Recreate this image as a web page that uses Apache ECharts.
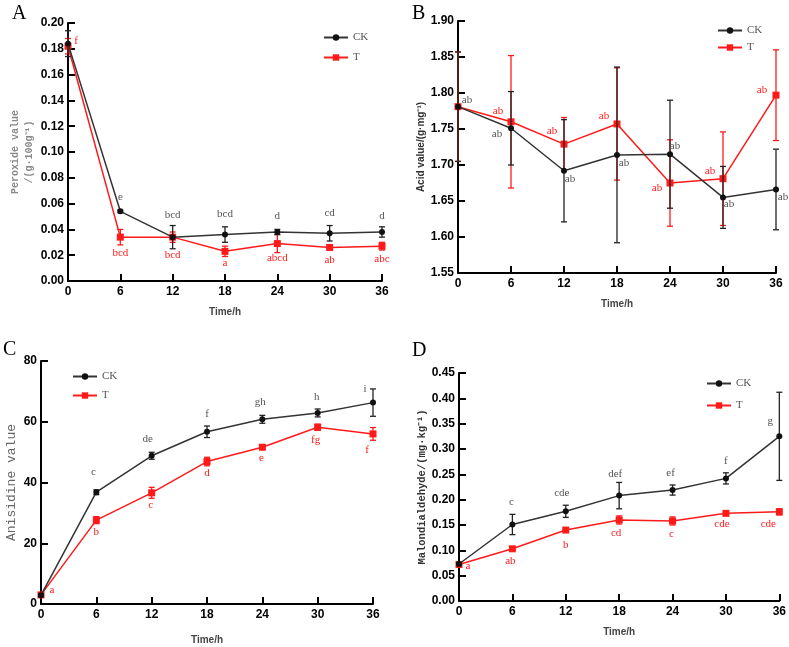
<!DOCTYPE html>
<html>
<head>
<meta charset="utf-8">
<script src="https://cdn.jsdelivr.net/npm/echarts@6/dist/echarts.min.js"></script>
<style>
  html, body { margin: 0; padding: 0; background: #fff; }
  #main { width: 789px; height: 647px; }
</style>
</head>
<body>
<div id="main"></div>
<script>
var hours = [0, 6, 12, 18, 24, 30, 36];

// A peroxide value
var peroxideCK = [0.184, 0.054, 0.034, 0.036, 0.038, 0.037, 0.038];
var peroxideCKErr = [0.010, 0.001, 0.009, 0.006, 0.002, 0.006, 0.004];
var peroxideT = [0.182, 0.034, 0.034, 0.023, 0.029, 0.026, 0.027];
var peroxideTErr = [0.006, 0.006, 0.004, 0.004, 0.007, 0.001, 0.003];
var peroxideCKSig = ['', 'e', 'bcd', 'bcd', 'd', 'cd', 'd'];
var peroxideTSig = ['f', 'bcd', 'bcd', 'a', 'abcd', 'ab', 'abc'];

// B acid value
var acidCK = [1.781, 1.751, 1.692, 1.714, 1.715, 1.655, 1.666];
var acidCKErr = [0.076, 0.051, 0.071, 0.122, 0.075, 0.043, 0.056];
var acidT = [1.781, 1.760, 1.729, 1.757, 1.675, 1.681, 1.797];
var acidTErr = [0.076, 0.092, 0.037, 0.078, 0.060, 0.065, 0.063];
var acidCKSig = ['ab', 'ab', 'ab', 'ab', 'ab', 'ab', 'ab'];
var acidTSig = ['', 'ab', 'ab', 'ab', 'ab', 'ab', 'ab'];

// C anisidine value
var anisCK = [2.9, 36.8, 48.8, 56.7, 60.8, 62.9, 66.3];
var anisCKErr = [0.5, 0.8, 1.15, 1.9, 1.3, 1.3, 4.5];
var anisT = [3.0, 27.6, 36.6, 46.9, 51.6, 58.2, 56.0];
var anisTErr = [0.5, 1.15, 1.8, 1.4, 0.65, 1.0, 2.1];
var anisCKSig = ['', 'c', 'de', 'f', 'gh', 'h', 'i'];
var anisTSig = ['a', 'b', 'c', 'd', 'e', 'fg', 'f'];

// D malondialdehyde
var mdaCK = [0.073, 0.151, 0.177, 0.208, 0.219, 0.242, 0.325];
var mdaCKErr = [0.003, 0.020, 0.012, 0.026, 0.010, 0.011, 0.087];
var mdaT = [0.072, 0.103, 0.140, 0.160, 0.158, 0.173, 0.176];
var mdaTErr = [0.003, 0.003, 0.002, 0.008, 0.008, 0.002, 0.006];
var mdaCKSig = ['', 'c', 'cde', 'def', 'ef', 'f', 'g'];
var mdaTSig = ['a', 'ab', 'b', 'cd', 'c', 'cde', 'cde'];

var CK_COLOR = '#222';
var T_COLOR = '#ff1a1a';

var panels = [
  {
    letter: 'A', letterPos: [12, 4],
    grid: { left: 68, top: 23, width: 314, height: 258 },
    y: { min: 0, max: 0.2, interval: 0.02, dec: 2 },
    yName: 'Peroxide value\n/(g·100g⁻¹)', yNameGap: 28,
    yNameStyle: { fontFamily: 'Liberation Mono', fontSize: 10, fontWeight: 'bold', color: '#888', lineHeight: 14 },
    xNameGap: 26,
    legend: { left: 318, top: 27, itemGap: 9 },
    ck: peroxideCK, ckErr: peroxideCKErr, ckSig: peroxideCKSig,
    t: peroxideT, tErr: peroxideTErr, tSig: peroxideTSig,
    ckOff: [[0, 0], [0, -14], [0, -22], [0, -20], [0, -16], [0, -20], [0, -16]],
    tOff: [[8, -5], [0, 16], [0, 18], [0, 12], [0, 15], [0, 13], [0, 13]]
  },
  {
    letter: 'B', letterPos: [412, 4],
    grid: { left: 458, top: 21, width: 318, height: 252 },
    y: { min: 1.55, max: 1.90, interval: 0.05, dec: 2 },
    yName: 'Acid value/(g·mg⁻¹)', yNameGap: 30,
    yNameStyle: { fontFamily: 'Liberation Sans', fontSize: 10, fontWeight: 'bold', color: '#333' },
    xNameGap: 26,
    legend: { left: 712, top: 20, itemGap: 6 },
    ck: acidCK, ckErr: acidCKErr, ckSig: acidCKSig,
    t: acidT, tErr: acidTErr, tSig: acidTSig,
    ckOff: [[9, -7], [-14, 6], [6, 8], [7, 8], [5, -8], [6, 7], [7, 8]],
    tOff: [[0, 0], [-13, -11], [-12, -13], [-13, -8], [-13, 5], [-13, -8], [-14, -5]]
  },
  {
    letter: 'C', letterPos: [3, 340],
    grid: { left: 41, top: 361, width: 332, height: 243 },
    y: { min: 0, max: 80, interval: 20, dec: 0 },
    yName: 'Anisidine value', yNameGap: 23,
    yNameStyle: { fontFamily: 'Liberation Mono', fontSize: 13, color: '#666' },
    xNameGap: 31,
    legend: { left: 67, top: 366, itemGap: 8 },
    ck: anisCK, ckErr: anisCKErr, ckSig: anisCKSig,
    t: anisT, tErr: anisTErr, tSig: anisTSig,
    ckOff: [[0, 0], [-3, -20], [-4, -17], [0, -18], [-2, -17], [-1, -16], [-8, -14]],
    tOff: [[11, -5], [0, 12], [-1, 12], [0, 12], [-1, 11], [-2, 13], [-6, 16]]
  },
  {
    letter: 'D', letterPos: [412, 341],
    grid: { left: 459, top: 373, width: 322, height: 228 },
    y: { min: 0, max: 0.45, interval: 0.05, dec: 2 },
    yName: 'Malondialdehyde/(mg·kg⁻¹)', yNameGap: 30,
    yNameStyle: { fontFamily: 'Liberation Mono', fontSize: 10.5, fontWeight: 'bold', color: '#333' },
    xNameGap: 26,
    legend: { left: 701, top: 373, itemGap: 11 },
    ck: mdaCK, ckErr: mdaCKErr, ckSig: mdaCKSig,
    t: mdaT, tErr: mdaTErr, tSig: mdaTSig,
    ckOff: [[0, 0], [-1, -22], [-4, -18], [-4, -22], [-2, -17], [0, -17], [-9, -15]],
    tOff: [[9, 2], [-2, 12], [0, 15], [-3, 13], [-1, 13], [-4, 11], [-11, 12]]
  }
];

function errRender(color) {
  return function (params, api) {
    var x = api.value(0);
    var lo = api.coord([x, api.value(1)]);
    var hi = api.coord([x, api.value(2)]);
    var w = 3;
    var st = { stroke: color, lineWidth: 1.3 };
    return {
      type: 'group',
      children: [
        { type: 'line', shape: { x1: lo[0], y1: lo[1], x2: hi[0], y2: hi[1] }, style: st },
        { type: 'line', shape: { x1: lo[0] - w, y1: lo[1], x2: lo[0] + w, y2: lo[1] }, style: st },
        { type: 'line', shape: { x1: hi[0] - w, y1: hi[1], x2: hi[0] + w, y2: hi[1] }, style: st }
      ]
    };
  };
}

function lineData(vals, sig, offs) {
  return hours.map(function (t, i) {
    return {
      value: [t, vals[i]],
      label: { show: sig[i] !== '', formatter: sig[i], offset: offs[i] }
    };
  });
}

var grids = [], xAxes = [], yAxes = [], legends = [], series = [], graphics = [];

panels.forEach(function (p, k) {
  grids.push(p.grid);
  xAxes.push({
    gridIndex: k, type: 'value', min: 0, max: 36, interval: 6,
    name: 'Time/h', nameLocation: 'middle', nameGap: p.xNameGap,
    nameTextStyle: { fontFamily: 'Liberation Sans', fontSize: 10, fontWeight: 'bold', color: '#444' },
    axisLine: { show: true, onZero: false, lineStyle: { color: '#000', width: 2 } },
    axisTick: { show: true, inside: true, length: 7, lineStyle: { color: '#000', width: 2 } },
    axisLabel: { fontFamily: 'Liberation Sans', fontSize: 12, fontWeight: 'bold', color: '#000', margin: 5 },
    splitLine: { show: false }
  });
  yAxes.push({
    gridIndex: k, type: 'value', min: p.y.min, max: p.y.max, interval: p.y.interval,
    name: p.yName, nameLocation: 'middle', nameGap: p.yNameGap,
    nameTextStyle: p.yNameStyle,
    axisLine: { show: true, onZero: false, lineStyle: { color: '#000', width: 2 } },
    axisTick: { show: true, inside: true, length: 7, lineStyle: { color: '#000', width: 2 } },
    axisLabel: {
      fontFamily: 'Liberation Sans', fontSize: 12, fontWeight: 'bold', color: '#000', margin: 4,
      formatter: function (v) { return v.toFixed(p.y.dec); }
    },
    splitLine: { show: false }
  });
  legends.push({
    data: ['CK', 'T'], orient: 'vertical', left: p.legend.left, top: p.legend.top,
    itemWidth: 24, itemHeight: 8, itemGap: p.legend.itemGap, selectedMode: false,
    textStyle: { fontFamily: 'Liberation Serif', fontSize: 11, color: '#555' }
  });

  series.push({
    name: 'T-err', type: 'custom', xAxisIndex: k, yAxisIndex: k,
    renderItem: errRender(T_COLOR), z: 2,
    data: hours.map(function (t, i) { return [t, p.t[i] - p.tErr[i], p.t[i] + p.tErr[i]]; })
  });
  series.push({
    name: 'T', type: 'line', xAxisIndex: k, yAxisIndex: k, z: 3,
    symbol: 'rect', symbolSize: 7,
    lineStyle: { color: T_COLOR, width: 1.5 },
    itemStyle: { color: T_COLOR },
    label: { position: 'inside', fontFamily: 'Liberation Serif', fontSize: 11, color: T_COLOR },
    data: lineData(p.t, p.tSig, p.tOff)
  });
  series.push({
    name: 'CK-err', type: 'custom', xAxisIndex: k, yAxisIndex: k,
    renderItem: errRender(CK_COLOR), z: 4,
    data: hours.map(function (t, i) { return [t, p.ck[i] - p.ckErr[i], p.ck[i] + p.ckErr[i]]; })
  });
  series.push({
    name: 'CK', type: 'line', xAxisIndex: k, yAxisIndex: k, z: 5,
    symbol: 'circle', symbolSize: 6,
    lineStyle: { color: '#333', width: 1.5 },
    itemStyle: { color: '#111' },
    label: { position: 'inside', fontFamily: 'Liberation Serif', fontSize: 11, color: '#555' },
    data: lineData(p.ck, p.ckSig, p.ckOff)
  });

  graphics.push({
    type: 'text', left: p.letterPos[0], top: p.letterPos[1],
    style: { text: p.letter, font: '20px "Liberation Serif"', fill: '#000' }
  });
});

var chart = echarts.init(document.getElementById('main'));
chart.setOption({
  animation: false,
  backgroundColor: '#fff',
  grid: grids,
  xAxis: xAxes,
  yAxis: yAxes,
  legend: legends,
  series: series,
  graphic: graphics
});
</script>
</body>
</html>
